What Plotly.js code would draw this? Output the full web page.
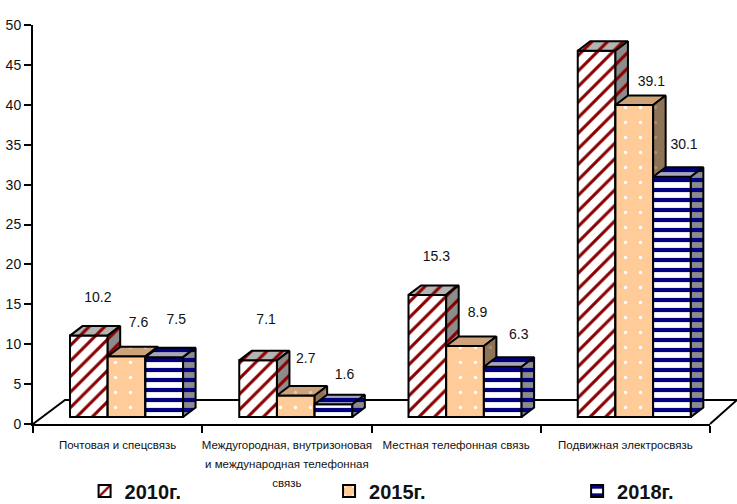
<!DOCTYPE html>
<html>
<head>
<meta charset="utf-8">
<script src="https://cdn.plot.ly/plotly-3.0.1.min.js"></script>
<style>html,body{margin:0;padding:0;background:#fff}#c{width:737px;height:504px}</style>
</head>
<body>
<div id="c"></div>
<script>
const categories = ['Почтовая и спецсвязь', 'Междугородная, внутризоновая<br>и международная телефонная<br>связь', 'Местная телефонная связь', 'Подвижная электросвязь'];
const seriesNames = ['2010г.', '2015г.', '2018г.'];
const values2010 = [10.2, 7.1, 15.3, 45.9];
const values2015 = [7.6, 2.7, 8.9, 39.1];
const values2018 = [7.5, 1.6, 6.3, 30.1];
const yTicks = [0, 5, 10, 15, 20, 25, 30, 35, 40, 45, 50];

// Layout of the pseudo-3D drawing, in pixels, converted to axis units
const W = 737, H = 504, L = 33, R = 27, T = 25, B = 80;
const plotW = W - L - R, plotH = H - T - B;
const pxX = plotW / 4, pxY = plotH / 50;
const barW = 37.7 / pxX, groupStart = 37 / pxX;
const baseLift = 7 / pxY, depthX = 12.5 / pxX, depthY = 9.5 / pxY;
const labelNudgeX = [[9, 8, 9, 4], [12, 10, 12.5, 17], [12, 11, 16, 12]];
const labelNudgeY = [[37, 40, 37, 35], [33, 35.5, 32, 22], [37, 29, 31, 31]];

const styles = [
  { front: { shape: '/', bgcolor: '#ffffff', fgcolor: '#8b0000', size: 11, solidity: 0.28 },
    top:   { shape: '/', bgcolor: '#b4b4b4', fgcolor: '#8b0000', size: 11, solidity: 0.28 },
    side:  { shape: '/', bgcolor: '#8c8c8c', fgcolor: '#8b0000', size: 11, solidity: 0.28 } },
  { front: { shape: '.', bgcolor: '#ffcc99', fgcolor: '#ffffff', size: 15, solidity: 0.04 },
    top:   { shape: '.', bgcolor: '#cca37a', fgcolor: '#e0c8b0', size: 15, solidity: 0.04 },
    side:  { shape: '.', bgcolor: '#8f7356', fgcolor: '#a89078', size: 15, solidity: 0.04 } },
  { front: { shape: '-', bgcolor: '#ffffff', fgcolor: '#000080', size: 10, solidity: 0.42 },
    top:   { shape: '-', bgcolor: '#a8a8b8', fgcolor: '#000080', size: 10, solidity: 0.42 },
    side:  { shape: '-', bgcolor: '#8c8c8c', fgcolor: '#000080', size: 10, solidity: 0.42 } }
];

const allSeries = [values2010, values2015, values2018];
const traces = [];

allSeries.forEach((vals, s) => {
  const xa = s === 0 ? 'x' : 'x' + (s + 1), ya = s === 0 ? 'y' : 'y' + (s + 1);
  const left = vals.map((_, i) => i + groupStart + s * barW);
  traces.push({
    type: 'bar', name: seriesNames[s], xaxis: xa, yaxis: ya,
    legend: s === 0 ? 'legend' : 'legend' + (s + 1),
    x: left.map(v => v + barW / 2), y: vals, base: vals.map(() => baseLift), width: barW,
    marker: { color: styles[s].front.bgcolor, pattern: styles[s].front, line: { color: '#000', width: 2 } },
    hoverinfo: 'skip'
  });
  const topX = [], topY = [], sideX = [], sideY = [];
  vals.forEach((v, i) => {
    const a = left[i], b = a + barW, h = baseLift + v;
    topX.push(a, a + depthX, b + depthX, b, a, null);
    topY.push(h, h + depthY, h + depthY, h, h, null);
    sideX.push(b, b + depthX, b + depthX, b, b, null);
    sideY.push(h, h + depthY, baseLift + depthY, baseLift, h, null);
  });
  [[topX, topY, styles[s].top], [sideX, sideY, styles[s].side]].forEach(([px, py, st]) => {
    traces.push({
      type: 'scatter', mode: 'lines', xaxis: xa, yaxis: ya, x: px, y: py, fill: 'toself',
      fillcolor: st.bgcolor, fillpattern: st, line: { color: '#000', width: 2 },
      hoverinfo: 'skip', showlegend: false, cliponaxis: false
    });
  });
});

// value labels, on the overlay that also carries the category labels
const lx = [], ly = [], lt = [];
allSeries.forEach((vals, s) => vals.forEach((v, i) => {
  lx.push(i + groupStart + (s + 0.5) * barW + labelNudgeX[s][i] / pxX);
  ly.push(baseLift + v + labelNudgeY[s][i] / pxY);
  lt.push(v.toFixed(1));
}));
const textFont = '"Liberation Sans", Arial, sans-serif';
traces.push({
  type: 'scatter', mode: 'text', xaxis: 'x4', yaxis: 'y', x: lx, y: ly, text: lt,
  textposition: 'middle center', cliponaxis: false,
  textfont: { family: textFont, size: 14, color: '#111' },
  hoverinfo: 'skip', showlegend: false
});

// chart floor, behind all marks; it runs past the plot area on the right
const paperX = (p) => (p - L) / plotW, paperY = (p) => (H - B - p) / plotH;
const floorPath = 'M' + paperX(33) + ',' + paperY(424) + ' L' + paperX(65) + ',' + paperY(400) +
                  ' L' + paperX(737) + ',' + paperY(400) + ' L' + paperX(710) + ',' + paperY(424);

const hidden = (n) => ({ overlaying: n, range: n === 'x' ? [0, 4] : [0, 50], visible: false, fixedrange: true });
const legendAt = (x) => ({
  x: x, y: -0.168, xanchor: 'left', yanchor: 'middle', indentation: -9,
  font: { family: textFont, size: 20, weight: 'bold', color: '#111' },
  bgcolor: 'rgba(0,0,0,0)', itemclick: false, itemdoubleclick: false
});
const layout = {
  width: W, height: H, margin: { l: L, r: R, t: T, b: B, pad: 0, autoexpand: false },
  paper_bgcolor: '#fff', plot_bgcolor: 'rgba(0,0,0,0)', barmode: 'overlay', hovermode: false,
  shapes: [{ type: 'path', xref: 'paper', yref: 'paper', path: floorPath, layer: 'below', line: { color: '#000', width: 2 } }],
  xaxis: { range: [0, 4], tickvals: [0, 1, 2, 3, 4], showticklabels: false, ticks: 'outside', ticklen: 7, tickwidth: 2,
           tickcolor: '#000', showline: true, linecolor: '#000', linewidth: 2, showgrid: false, zeroline: false },
  yaxis: { range: [0, 50], tickvals: yTicks, ticks: 'outside', ticklen: 7, tickwidth: 2, tickcolor: '#000',
           showline: true, linecolor: '#000', linewidth: 2, showgrid: false, zeroline: false,
           tickfont: { family: textFont, size: 14, color: '#111' } },
  xaxis2: Object.assign(hidden('x'), { anchor: 'y2' }),
  yaxis2: Object.assign(hidden('y'), { anchor: 'x2' }),
  xaxis3: Object.assign(hidden('x'), { anchor: 'y3' }),
  yaxis3: Object.assign(hidden('y'), { anchor: 'x3' }),
  xaxis4: { overlaying: 'x', anchor: 'y', range: [0, 4], tickmode: 'array', tickvals: [0.5, 1.5, 2.5, 3.5],
            ticktext: categories.map(c => c.split('<br>').map(t => '<span style="font-size:11.5px">' + t + '</span>').join('<br>')),
            ticks: '', showline: false, showgrid: false, zeroline: false, tickangle: 0,
            ticklabelstandoff: 9, tickfont: { family: textFont, size: 14.6, color: '#111' } },
  legend: legendAt(0.0895),
  legend2: legendAt(0.4506),
  legend3: legendAt(0.817)
};
Plotly.newPlot('c', traces, layout, { displayModeBar: false, staticPlot: true });
</script>
</body>
</html>
